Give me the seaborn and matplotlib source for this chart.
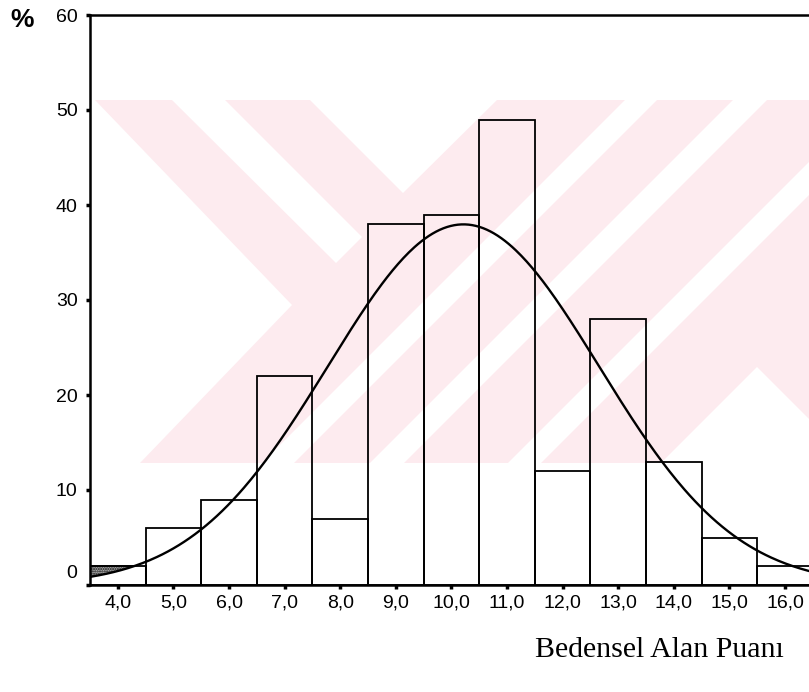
import numpy as np
import pandas as pd
import matplotlib
matplotlib.use('Agg')
import matplotlib.pyplot as plt
from matplotlib.patches import Polygon
from matplotlib.transforms import ScaledTranslation
import seaborn as sns

# bars (bin width 1, centres 4..16)
bin_centers = [4, 5, 6, 7, 8, 9, 10, 11, 12, 13, 14, 15, 16]
bar_heights = [2, 6, 9, 22, 7, 38, 39, 49, 12, 28, 13, 5, 2]
x_ticks = [4, 5, 6, 7, 8, 9, 10, 11, 12, 13, 14, 15, 16]
x_tick_labels = ['4,0', '5,0', '6,0', '7,0', '8,0', '9,0', '10,0',
                 '11,0', '12,0', '13,0', '14,0', '15,0', '16,0']
y_ticks = [0, 10, 20, 30, 40, 50, 60]
x_title = 'Bedensel Alan Puanı'
y_unit = '%'

sns.set_style('white')
plt.rcParams['font.family'] = ['Liberation Sans', 'DejaVu Sans']
plt.rcParams['text.color'] = 'black'
plt.rcParams['hatch.linewidth'] = 1.0

W, H = 809, 692
fig = plt.figure(figsize=(W / 100, H / 100), dpi=100)
ax = fig.add_axes([90 / W, 1 - 585 / H, (809 - 90) / W, (585 - 15) / H])
ax.set_facecolor('none')


def to_fig(points):
    return [(x / W, 1 - y / H) for x, y in points]


# faint watermark behind the plot (pixel outlines)
pink = '#fdebef'
fig.patches.append(Polygon(to_fig([(95, 100), (809, 100), (809, 463), (140, 463), (292, 305)]),
                           closed=True, transform=fig.transFigure, fc=pink, ec='none', zorder=-5))
white_parts = [
    [(172, 100), (225, 100), (362, 237), (336, 263)],
    [(310, 100), (497, 100), (403, 193)],
    [(625, 100), (657, 100), (294, 463), (262, 463)],
    [(733, 100), (767, 100), (404, 463), (370, 463)],
    [(809, 162), (809, 195), (541, 463), (508, 463)],
    [(757, 367), (809, 419), (809, 463), (661, 463)],
]
for pts in white_parts:
    fig.patches.append(Polygon(to_fig(pts), closed=True, transform=fig.transFigure,
                               fc='white', ec='none', zorder=-4))

edges = [c - 0.5 for c in bin_centers] + [bin_centers[-1] + 0.5]
df = pd.DataFrame({'score': bin_centers, 'pct': bar_heights})

# histogram outlines
sns.histplot(data=df, x='score', weights='pct', bins=edges, fill=False,
             color='black', linewidth=1.3, ax=ax, zorder=2)

# first bar is stippled
sns.histplot(data=df.iloc[:1], x='score', weights='pct', bins=edges[:2],
             color='#a8a8a8', alpha=1, hatch='.......', edgecolor='#111111',
             linewidth=1.3, ax=ax, zorder=1)

# normal curve fitted to the binned data
n = sum(bar_heights)
mean = np.average(bin_centers, weights=bar_heights)
sd = np.sqrt(np.sum(np.array(bar_heights) * (np.array(bin_centers) - mean) ** 2) / (n - 1))
xs = np.linspace(3.5, 16.5, 400)
ys = n * 1.0 / (sd * np.sqrt(2 * np.pi)) * np.exp(-0.5 * ((xs - mean) / sd) ** 2)

first = xs <= 4.5
ax.fill_between(xs[first], 0, ys[first], color='white', zorder=1.5)
sns.lineplot(x=xs, y=ys, color='black', linewidth=1.7, ax=ax, zorder=3)

ax.set_xlim(3.5, 16.43)
ax.set_ylim(0, 60)
ax.set_xticks(x_ticks, x_tick_labels)
ax.set_yticks(y_ticks)
ax.set_xlabel('')
ax.set_ylabel('')

ax.tick_params(axis='both', which='major', bottom=True, left=True, direction='out',
               length=3, width=2.5, color='black', labelsize=14, labelcolor='black')
ax.tick_params(axis='y', pad=6)
ax.tick_params(axis='x', pad=4)

for side in ['top', 'left', 'bottom']:
    ax.spines[side].set_visible(True)
    ax.spines[side].set_color('black')
    ax.spines[side].set_linewidth(1.8)
ax.spines['right'].set_visible(False)

# the "0" label sits a bit higher than its tick in the original
zero_label = ax.yaxis.get_major_ticks()[0].label1
zero_label.set_transform(zero_label.get_transform() + ScaledTranslation(0, 13 / 100, fig.dpi_scale_trans))

fig.text(22 / W, 1 - 20 / H, y_unit, fontsize=19, fontweight='bold', color='black',
         ha='center', va='center')
fig.text(535 / W, 1 - 650 / H, x_title, family=['Liberation Serif', 'DejaVu Serif'],
         fontsize=21.5, color='black', ha='left', va='center')

fig.savefig('out.png', dpi=100)
